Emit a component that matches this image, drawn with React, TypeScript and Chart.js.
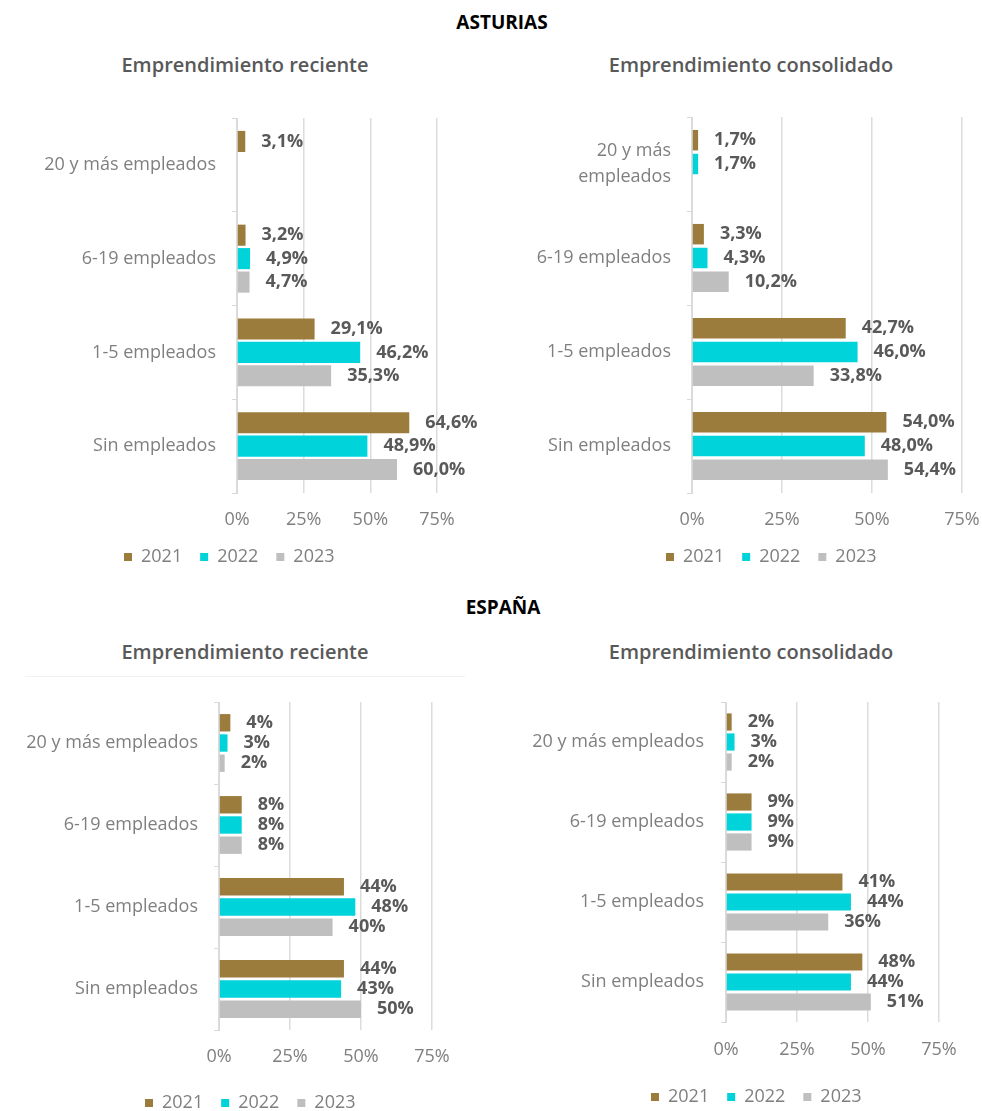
import React, { useEffect, useRef } from "react";
import { Chart, registerables } from "chart.js";

Chart.register(...registerables);

// ---------- data ----------
const categories = ["20 y más empleados", "6-19 empleados", "1-5 empleados", "Sin empleados"];
const categoriesTwoLine = [["20 y más", "empleados"], "6-19 empleados", "1-5 empleados", "Sin empleados"];
const years = ["2021", "2022", "2023"];
const xTickValues = [0, 25, 50, 75];

const asturiasReciente2021 = [3.1, 3.2, 29.1, 64.6];
const asturiasReciente2022 = [null, 4.9, 46.2, 48.9];
const asturiasReciente2023 = [null, 4.7, 35.3, 60.0];

const asturiasConsolidado2021 = [1.7, 3.3, 42.7, 54.0];
const asturiasConsolidado2022 = [1.7, 4.3, 46.0, 48.0];
const asturiasConsolidado2023 = [null, 10.2, 33.8, 54.4];

const espanaReciente2021 = [4, 8, 44, 44];
const espanaReciente2022 = [3, 8, 48, 43];
const espanaReciente2023 = [2, 8, 40, 50];

const espanaConsolidado2021 = [2, 9, 41, 48];
const espanaConsolidado2022 = [3, 9, 44, 44];
const espanaConsolidado2023 = [2, 9, 36, 51];

const yearColors = ["#9c7c3c", "#00d3d9", "#bfbfbf"];

const FONT = "'Open Sans', sans-serif";

function fmt(v: number, decimals: number) {
  return v.toFixed(decimals).replace(".", ",") + "%";
}

const valueLabels = {
  id: "valueLabels",
  afterDatasetsDraw(chart: any, _args: any, opts: any) {
    const ctx = chart.ctx;
    ctx.save();
    ctx.font = `bold 18px ${FONT}`;
    ctx.fillStyle = "#595959";
    ctx.textAlign = "left";
    ctx.textBaseline = "middle";
    chart.data.datasets.forEach((ds: any, di: number) => {
      const meta = chart.getDatasetMeta(di);
      meta.data.forEach((el: any, i: number) => {
        const v = ds.data[i];
        if (v === null || v === undefined) return;
        ctx.fillText(fmt(v, opts.decimals), el.x + 16, el.y);
      });
    });
    ctx.restore();
  },
};

// moves the (start-aligned) legend so that its first box starts at opts.left
const legendShift = {
  id: "legendShift",
  afterLayout(chart: any, _args: any, opts: any) {
    if (chart.legend && typeof opts.left === "number") {
      chart.legend.left = opts.left;
    }
  },
};

type Geom = {
  canvasLeft: number;
  canvasRight: number;
  canvasTop: number;
  areaLeft: number;
  areaRight: number;
  areaTop: number;
  areaBottom: number;
  legendBoxLeft: number;
  legendCenterY: number;
  tickCenterY: number;
  yLabelRight: number;
};

type PanelProps = {
  labels: any[];
  series: (number | null)[][];
  decimals: number;
  g: Geom;
  catPct: number;
  barPct: number;
  yLineHeight?: number;
};

function Panel({ labels, series, decimals, g, catPct, barPct, yLineHeight }: PanelProps) {
  const ref = useRef<HTMLCanvasElement>(null);
  const LP = 18; // legend label padding
  const legendHeight = 18 + LP + 10;
  const legendTop = g.legendCenterY - (LP + 9);
  const width = g.canvasRight - g.canvasLeft;
  const height = legendTop + legendHeight - g.canvasTop;

  useEffect(() => {
    const canvas = ref.current!;
    const padRight = g.canvasRight - g.areaRight;
    const padTop = g.areaTop - g.canvasTop;
    const yAxisWidth = g.areaLeft - g.canvasLeft;
    const xAxisHeight = legendTop - g.areaBottom;
    const xTickPad = g.tickCenterY - g.areaBottom - 10.8;
    const yTickPad = g.areaLeft - 5 - g.yLabelRight;

    const chart = new Chart(canvas, {
      type: "bar",
      data: {
        labels,
        datasets: years.map((y, i) => ({
          label: y,
          data: series[i],
          backgroundColor: yearColors[i],
          borderWidth: 0,
          categoryPercentage: catPct,
          barPercentage: barPct,
        })),
      },
      options: {
        indexAxis: "y",
        responsive: false,
        animation: false,
        devicePixelRatio: 1,
        events: [],
        layout: {
          autoPadding: false,
          padding: { left: 0, right: padRight, top: padTop, bottom: 0 },
        },
        scales: {
          x: {
            type: "linear",
            min: 0,
            max: 75,
            afterBuildTicks: (scale: any) => {
              scale.ticks = xTickValues.map((v) => ({ value: v }));
            },
            ticks: {
              callback: (v: any) => v + "%",
              color: "#7f7f7f",
              font: { family: FONT, size: 18 },
              padding: xTickPad,
              maxRotation: 0,
            },
            grid: { display: true, drawTicks: false, color: "#dcdcdc", lineWidth: 1.5 },
            border: { display: false },
            afterFit: (scale: any) => {
              scale.height = xAxisHeight;
              scale.paddingLeft = 0;
              scale.paddingRight = 0;
              scale.paddingTop = 0;
              scale.paddingBottom = 0;
            },
          },
          y: {
            type: "category",
            ticks: {
              color: "#7f7f7f",
              font: { family: FONT, size: 18, lineHeight: yLineHeight || 1.2 },
              padding: yTickPad,
            },
            grid: {
              display: true,
              drawOnChartArea: false,
              drawTicks: true,
              tickLength: 5,
              color: "#d9d9d9",
              offset: true,
            },
            border: { display: true, color: "#d9d9d9", width: 1 },
            afterFit: (scale: any) => {
              scale.width = yAxisWidth;
              scale.paddingLeft = 0;
              scale.paddingRight = 0;
              scale.paddingTop = 0;
              scale.paddingBottom = 0;
            },
          },
        },
        plugins: {
          legend: {
            display: true,
            position: "bottom",
            align: "start",
            labels: {
              boxWidth: 8,
              boxHeight: 8,
              padding: LP,
              color: "#7f7f7f",
              font: { family: FONT, size: 18 },
            },
          },
          tooltip: { enabled: false },
          title: { display: false },
          valueLabels: { decimals },
          legendShift: { left: g.legendBoxLeft - LP - g.canvasLeft },
        } as any,
      },
      plugins: [valueLabels as any, legendShift as any],
    } as any);
    return () => chart.destroy();
  }, []);

  return (
    <canvas
      ref={ref}
      width={width}
      height={height}
      style={{
        position: "absolute",
        left: g.canvasLeft,
        top: g.canvasTop,
        width,
        height,
        display: "block",
      }}
    />
  );
}

function CenteredText({ text, cx, cy, size, weight, color }: any) {
  return (
    <div
      style={{
        position: "absolute",
        left: cx - 250,
        width: 500,
        top: cy - size * 0.7,
        height: size * 1.4,
        lineHeight: `${size * 1.4}px`,
        textAlign: "center",
        fontFamily: FONT,
        fontSize: size,
        fontWeight: weight,
        color,
        whiteSpace: "nowrap",
      }}
    >
      {text}
    </div>
  );
}

export default function App() {
  return (
    <div
      style={{
        position: "absolute",
        left: 0,
        top: 0,
        width: 982,
        height: 1111,
        overflow: "hidden",
        background: "#ffffff",
      }}
    >
      <CenteredText text="ASTURIAS" cx={502} cy={22} size={19} weight={700} color="#000000" />
      <CenteredText text="Emprendimiento reciente" cx={245} cy={65} size={20} weight={600} color="#595959" />
      <CenteredText text="Emprendimiento consolidado" cx={751} cy={65} size={20} weight={600} color="#595959" />

      <Panel
        labels={categories}
        series={[asturiasReciente2021, asturiasReciente2022, asturiasReciente2023]}
        decimals={1}
        catPct={0.75}
        barPct={0.9}
        g={{
          canvasLeft: 0,
          canvasRight: 491,
          canvasTop: 106,
          areaLeft: 237,
          areaRight: 437,
          areaTop: 118,
          areaBottom: 493,
          legendBoxLeft: 124,
          legendCenterY: 557,
          tickCenterY: 520,
          yLabelRight: 216,
        }}
      />
      <Panel
        labels={categoriesTwoLine}
        series={[asturiasConsolidado2021, asturiasConsolidado2022, asturiasConsolidado2023]}
        decimals={1}
        catPct={0.76}
        barPct={0.86}
        yLineHeight={1.45}
        g={{
          canvasLeft: 491,
          canvasRight: 982,
          canvasTop: 105,
          areaLeft: 692,
          areaRight: 962,
          areaTop: 117,
          areaBottom: 493,
          legendBoxLeft: 666,
          legendCenterY: 557,
          tickCenterY: 520,
          yLabelRight: 671,
        }}
      />

      <CenteredText text="ESPAÑA" cx={503} cy={607} size={19} weight={700} color="#000000" />
      <CenteredText text="Emprendimiento reciente" cx={245} cy={652} size={20} weight={600} color="#595959" />
      <CenteredText text="Emprendimiento consolidado" cx={751} cy={652} size={20} weight={600} color="#595959" />
      <div
        style={{
          position: "absolute",
          left: 25,
          top: 676,
          width: 440,
          height: 1,
          background: "#f2f2f2",
        }}
      />

      <Panel
        labels={categories}
        series={[espanaReciente2021, espanaReciente2022, espanaReciente2023]}
        decimals={0}
        catPct={0.74}
        barPct={0.86}
        g={{
          canvasLeft: 0,
          canvasRight: 491,
          canvasTop: 690,
          areaLeft: 219,
          areaRight: 432,
          areaTop: 702,
          areaBottom: 1030,
          legendBoxLeft: 145,
          legendCenterY: 1103,
          tickCenterY: 1057,
          yLabelRight: 198,
        }}
      />
      <Panel
        labels={categories}
        series={[espanaConsolidado2021, espanaConsolidado2022, espanaConsolidado2023]}
        decimals={0}
        catPct={0.75}
        barPct={0.86}
        g={{
          canvasLeft: 491,
          canvasRight: 982,
          canvasTop: 690,
          areaLeft: 726,
          areaRight: 939,
          areaTop: 702,
          areaBottom: 1022,
          legendBoxLeft: 651,
          legendCenterY: 1097,
          tickCenterY: 1050,
          yLabelRight: 704,
        }}
      />
    </div>
  );
}
